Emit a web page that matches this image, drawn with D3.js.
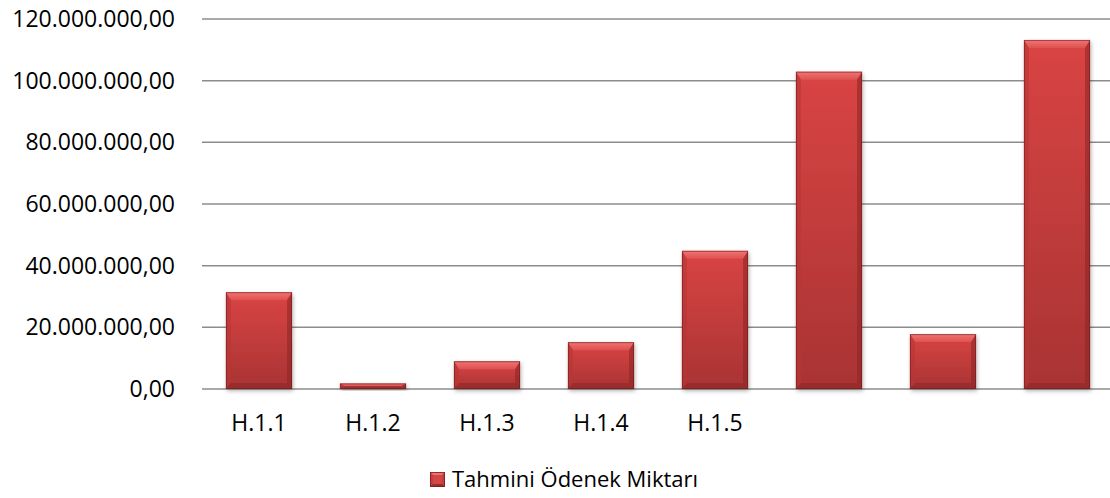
<!DOCTYPE html>
<html><head><meta charset="utf-8">
<script src="https://cdn.jsdelivr.net/npm/d3@7/dist/d3.min.js"></script>
<style>body{margin:0;background:#fff;} svg{display:block;} text{font-family:"Open Sans",sans-serif;fill:#000;}</style>
</head><body>
<svg id="c" width="1110" height="498"></svg>
<script>
const categories = ["H.1.1","H.1.2","H.1.3","H.1.4","H.1.5","","",""];
const values = [31400000, 1800000, 9000000, 15200000, 44800000, 102900000, 17800000, 113200000];
const yTicks = [0, 20000000, 40000000, 60000000, 80000000, 100000000, 120000000];
const seriesName = "Tahmini Ödenek Miktarı";

(function(){
const svg = d3.select("#c");
const pLeft = 202, pRight = 1114, pTop = 19, pBottom = 389;
const x = d3.scaleBand().domain(d3.range(categories.length)).range([pLeft, pRight]).paddingInner(0.42).paddingOuter(0.21);
const y = d3.scaleLinear().domain([0, 120000000]).range([pBottom, pTop]);

const fmt = v => {
  const s = Math.round(v).toString().replace(/\B(?=(\d{3})+(?!\d))/g, ".");
  return s + ",00";
};

const defs = svg.append("defs");
const g1 = defs.append("linearGradient").attr("id","body").attr("x1",0).attr("y1",0).attr("x2",0).attr("y2",1);
g1.append("stop").attr("offset","0%").attr("stop-color","#d94444");
g1.append("stop").attr("offset","100%").attr("stop-color","#a93333");
const gt = defs.append("linearGradient").attr("id","topb").attr("x1",0).attr("y1",0).attr("x2",0).attr("y2",1);
gt.append("stop").attr("offset","0%").attr("stop-color","#f37a7a");
gt.append("stop").attr("offset","100%").attr("stop-color","#e05252");
const f = defs.append("filter").attr("id","sh").attr("x","-20%").attr("y","-20%").attr("width","140%").attr("height","140%");
f.append("feDropShadow").attr("dx",1).attr("dy",2).attr("stdDeviation",2).attr("flood-color","#000").attr("flood-opacity",0.3);

const grid = svg.append("g");
grid.selectAll("line").data(yTicks).join("line")
  .attr("x1", pLeft).attr("x2", pRight)
  .attr("y1", d => y(d)).attr("y2", d => y(d))
  .attr("stroke", "#8c8c8c").attr("stroke-width", 1.5);

const yAxis = d3.axisLeft(y).tickValues(yTicks).tickFormat(fmt).tickSize(0).tickPadding(0);
const ya = svg.append("g").attr("transform", `translate(${175},0)`).call(yAxis);
ya.select(".domain").remove();
ya.selectAll("text").attr("font-size", 23).attr("font-family", '"Open Sans",sans-serif').attr("fill","#000");

const xAxis = d3.axisBottom(x).tickFormat(i => categories[i]).tickSize(0).tickPadding(0);
const xa = svg.append("g").attr("transform", `translate(0,${pBottom})`).call(xAxis);
xa.select(".domain").remove();
xa.selectAll("text").attr("font-size", 23).attr("font-family", '"Open Sans",sans-serif').attr("fill","#000")
  .attr("dy", null).attr("y", 42);

const bars = svg.append("g").selectAll("g").data(values).join("g");
bars.each(function(v, i) {
  const gg = d3.select(this);
  const x0 = x(i), w = x.bandwidth(), y0 = y(v), h = y(0) - y(v);
  const bt = Math.min(8, h / 2), bs = Math.min(5, w / 2), bb = Math.min(6, h / 2);
  gg.append("rect").attr("x", x0).attr("y", y0).attr("width", w).attr("height", h)
    .attr("fill", "url(#body)").attr("filter", "url(#sh)");
  gg.append("polygon").attr("points", [[x0,y0],[x0+w,y0],[x0+w-bs,y0+bt],[x0+bs,y0+bt]].join(" "))
    .attr("fill", "url(#topb)").attr("opacity", 0.9);
  gg.append("polygon").attr("points", [[x0,y0],[x0+bs,y0+bt],[x0+bs,y0+h-bb],[x0,y0+h]].join(" "))
    .attr("fill", "#b83636").attr("opacity", 0.6);
  gg.append("polygon").attr("points", [[x0+w,y0],[x0+w-bs,y0+bt],[x0+w-bs,y0+h-bb],[x0+w,y0+h]].join(" "))
    .attr("fill", "#8a2424").attr("opacity", 0.55);
  gg.append("polygon").attr("points", [[x0,y0+h],[x0+bs,y0+h-bb],[x0+w-bs,y0+h-bb],[x0+w,y0+h]].join(" "))
    .attr("fill", "#8a2626").attr("opacity", 0.55);
  gg.append("rect").attr("x", x0+0.5).attr("y", y0+0.5).attr("width", w-1).attr("height", Math.max(0,h-1))
    .attr("fill", "none").attr("stroke", "#6a1a1a").attr("stroke-width", 1).attr("opacity", 0.55);
});

const lg = svg.append("g").attr("transform", "translate(430,472)");
const s = 15;
lg.append("rect").attr("width", s).attr("height", s).attr("fill", "#c63c3c");
lg.append("polygon").attr("points",`0,0 ${s},0 ${s/2},${s/2}`).attr("fill","#f07070");
lg.append("polygon").attr("points",`0,${s} ${s},${s} ${s/2},${s/2}`).attr("fill","#9a2c2c");
lg.append("rect").attr("x",3).attr("y",3).attr("width", s-6).attr("height", s-6).attr("fill", "#d44646");
lg.append("rect").attr("x",0.5).attr("y",0.5).attr("width", s-1).attr("height", s-1).attr("fill", "none").attr("stroke","#7a1e1e").attr("stroke-width",0.8);
lg.append("text").attr("x", 22).attr("y", 15).attr("font-size", 22).text(seriesName);
})();
</script>
</body></html>
